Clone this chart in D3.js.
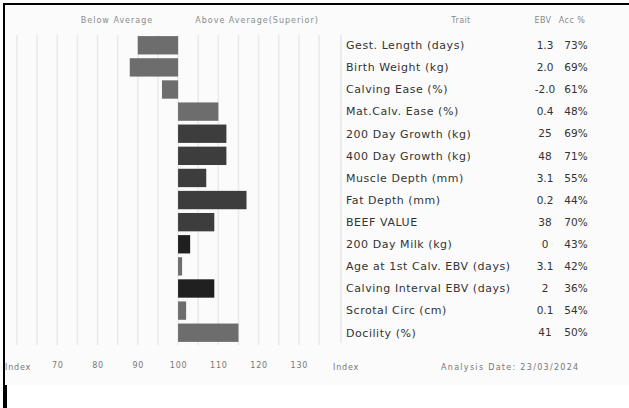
<!DOCTYPE html>
<html>
<head>
<meta charset="utf-8">
<script src="https://cdn.jsdelivr.net/npm/d3@7"></script>
<style>
  body { margin: 0; background: #fff; }
  svg { display: block; }
</style>
</head>
<body>
<div id="chart"></div>
<script>
const traits = ["Gest. Length (days)", "Birth Weight (kg)", "Calving Ease (%)", "Mat.Calv. Ease (%)",
    "200 Day Growth (kg)", "400 Day Growth (kg)", "Muscle Depth (mm)", "Fat Depth (mm)",
    "BEEF VALUE", "200 Day Milk (kg)", "Age at 1st Calv. EBV (days)", "Calving Interval EBV (days)",
    "Scrotal Circ (cm)", "Docility (%)"];
const ebv = ["1.3", "2.0", "-2.0", "0.4", "25", "48", "3.1", "0.2", "38", "0", "3.1", "2", "0.1", "41"];
const acc = ["73%", "69%", "61%", "48%", "69%", "71%", "55%", "44%", "70%", "43%", "42%", "36%", "54%", "50%"];
const index = [90, 88, 96, 110, 112, 112, 107, 117, 109, 103, 101, 109, 102, 115];
const tone = ["mid", "mid", "mid", "mid", "dark", "dark", "dark", "dark", "dark", "darkest", "mid", "darkest", "mid", "mid"];
const tickVals = [70, 80, 90, 100, 110, 120, 130];
const headers = ["Below Average", "Above Average(Superior)", "Trait", "EBV", "Acc %"];

const width = 629, height = 408;
const rows = traits.map((t, i) => ({trait: t, ebv: ebv[i], acc: acc[i], index: index[i], tone: tone[i]}));

const svg = d3.select("#chart").append("svg")
    .attr("width", width)
    .attr("height", height)
    .style("font-family", "'DejaVu Sans', sans-serif");

// panel background and frame
svg.append("rect").attr("x", 5).attr("y", 5).attr("width", width - 5).attr("height", 380).attr("fill", "#fbfbfb");
svg.append("rect").attr("x", 3).attr("y", 3).attr("width", width - 3).attr("height", 2).attr("fill", "#000");
svg.append("rect").attr("x", 3).attr("y", 3).attr("width", 2).attr("height", 382).attr("fill", "#000");
svg.append("rect").attr("x", 3).attr("y", 385).attr("width", 4).attr("height", 23).attr("fill", "#000");

const x = d3.scaleLinear().domain([60, 135]).range([17, 319]);
const y = d3.scaleBand().domain(traits).range([35, 343]).paddingInner(0.17).paddingOuter(0.05);
const color = d3.scaleOrdinal().domain(["mid", "dark", "darkest"]).range(["#6d6d6d", "#3d3d3d", "#202020"]);

// grid every 5 index points
svg.append("g").selectAll("line")
    .data(d3.range(60, 136, 5))
    .join("line")
    .attr("x1", d => x(d)).attr("x2", d => x(d))
    .attr("y1", 35).attr("y2", 345)
    .attr("stroke", "#e9e9e9")
    .attr("stroke-width", 1.5);

// bars from the 100 baseline
svg.append("g").selectAll("rect")
    .data(rows)
    .join("rect")
    .attr("x", d => x(Math.min(100, d.index)))
    .attr("width", d => Math.abs(x(d.index) - x(100)))
    .attr("y", d => y(d.trait))
    .attr("height", y.bandwidth())
    .attr("fill", d => color(d.tone));

// separator between bars and table
svg.append("line")
    .attr("x1", 341).attr("x2", 341)
    .attr("y1", 35).attr("y2", 343)
    .attr("stroke", "#dcdcdc");

// header labels
const head = svg.append("g")
    .attr("fill", "#8a8a8a")
    .style("font-size", "8px")
    .attr("text-anchor", "middle");
const headX = [117, 257, 461, 543, 572];
head.selectAll("text").data(headers).join("text")
    .attr("x", (d, i) => headX[i])
    .attr("y", 23)
    .style("letter-spacing", (d, i) => i < 2 ? "1px" : "0.4px")
    .text(d => d);

// table rows
const table = svg.append("g").attr("fill", "#333").style("font-size", "11px");
table.selectAll(".trait").data(rows).join("text")
    .attr("class", "trait")
    .attr("x", 346)
    .style("letter-spacing", "0.55px")
    .attr("y", d => y(d.trait) + y.bandwidth() / 2)
    .attr("dy", "0.35em")
    .text(d => d.trait);
table.selectAll(".ebv").data(rows).join("text")
    .attr("class", "ebv")
    .attr("x", 545)
    .style("font-size", "10.5px")
    .attr("text-anchor", "middle")
    .attr("y", d => y(d.trait) + y.bandwidth() / 2)
    .attr("dy", "0.35em")
    .text(d => d.ebv);
table.selectAll(".acc").data(rows).join("text")
    .attr("class", "acc")
    .attr("x", 576)
    .style("font-size", "10.5px")
    .attr("text-anchor", "middle")
    .attr("y", d => y(d.trait) + y.bandwidth() / 2)
    .attr("dy", "0.35em")
    .text(d => d.acc);

// index axis
const axis = svg.append("g")
    .attr("transform", "translate(0,362)")
    .call(d3.axisBottom(x).tickValues(tickVals).tickSize(0).tickPadding(0));
axis.select(".domain").remove();
axis.selectAll("text")
    .attr("fill", "#777")
    .style("font-size", "8px")
    .style("letter-spacing", "0.8px")
    .style("font-family", "'DejaVu Sans', sans-serif");

const foot = svg.append("g").attr("fill", "#777").style("font-size", "8px").style("letter-spacing", "1.3px");
foot.append("text").attr("x", 5).attr("y", 370).style("letter-spacing", "0.8px").text("Index");
foot.append("text").attr("x", 333).attr("y", 370).style("letter-spacing", "0.8px").text("Index");
foot.append("text").attr("x", 441).attr("y", 370).text("Analysis Date: 23/03/2024");
</script>
</body>
</html>
